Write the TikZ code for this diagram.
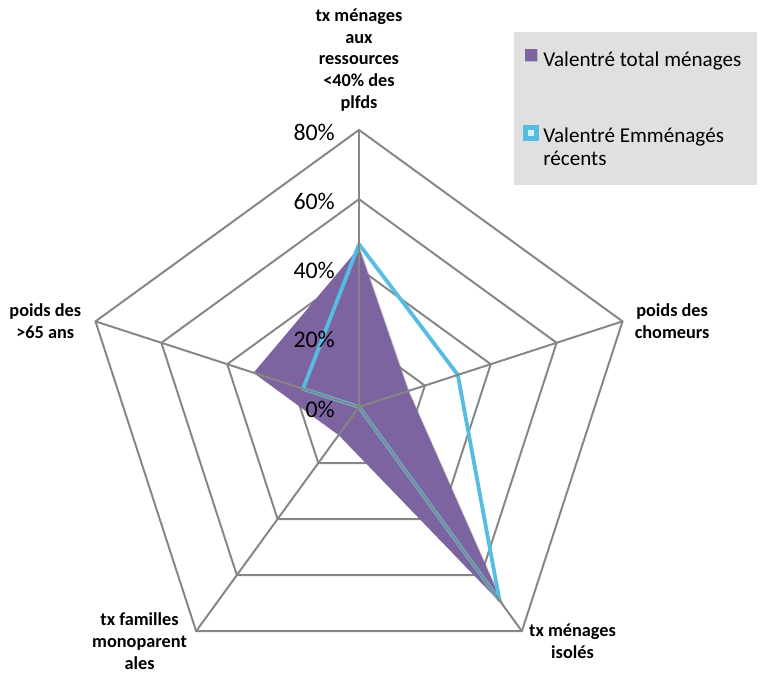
\documentclass[tikz,border=0pt]{standalone}
\usepackage{fontspec}
\setmainfont{Carlito}
\usetikzlibrary{shadows}
\definecolor{gridgray}{RGB}{134,134,134}
\definecolor{totalpurple}{RGB}{126,99,161}
\definecolor{recentblue}{RGB}{86,188,226}
\definecolor{legendgray}{RGB}{224,224,224}
\tikzset{
	grid_line/.style = {
		draw=gridgray,
		line width=1.4pt
	},
	serie_total/.style = {
		fill=totalpurple,
		drop shadow={shadow xshift=1.2pt, shadow yshift=-1.2pt, opacity=0.35}
	},
	serie_recent/.style = {
		draw=recentblue,
		line width=2.7pt,
		line join=round
	},
	cat_label/.style = {
		align=center,
		inner sep=0pt,
		font=\bfseries\fontsize{13}{15.5}\selectfont
	},
	tick_label/.style = {
		anchor=east,
		inner sep=0pt,
		font=\fontsize{17}{20}\selectfont
	},
	legend_key/.style = {
		inner sep=0pt,
		minimum size=#1
	},
	legend_text/.style = {
		align=left,
		inner sep=0pt,
		anchor=base west,
		font=\fontsize{15}{17}\selectfont
	},
}

\begin{document}
\begin{tikzpicture}[x=0.025cm, y=0.025cm]
\useasboundingbox (0,0) rectangle (764,673);
\fill[legendgray] (514,488) rectangle (757,641);
\begin{scope}[shift={(359,266)}, x=0.0865625cm, y=0.0865625cm]
\coordinate (o) at (0,0);
\foreach \a [count=\i] in {90,18,-54,-126,162}
	\coordinate (v\i) at (\a:80);
\foreach \r in {20,40,60,80}
	\draw[grid_line] (90:\r) -- (18:\r) -- (-54:\r) -- (-126:\r) -- (162:\r) -- cycle;
\fill[serie_total] (90:46) -- (18:15) -- (-54:71) -- (-126:10) -- (162:32) -- cycle;
\draw[serie_recent] (90:47) -- (18:30) -- (-54:69) -- (o) -- (162:17) -- cycle;
\foreach \i in {1,...,5}
	\draw[grid_line] (o) -- (v\i);
\foreach \t in {0,20,...,80}
	\node[tick_label] (tick\t) at (-6.9,\t-0.6) {\t\%};
\end{scope}
\node[cat_label, anchor=south] (cat_top) at ([yshift=13pt]v1) {tx ménages\\aux\\ressources\\<40\% des\\plfds};
\node[cat_label, anchor=west] (cat_right) at ([xshift=8.5pt]v2) {poids des\\chomeurs};
\node[cat_label, anchor=west] (cat_br) at ([shift={(5pt,-7pt)}]v3) {tx ménages\\isolés};
\node[cat_label, anchor=east] (cat_bl) at ([shift={(-6.4pt,-7pt)}]v4) {tx familles\\monoparent\\ales};
\node[cat_label, anchor=east] (cat_left) at ([xshift=-10pt]v5) {poids des\\>65 ans};
\node[legend_key=0.32cm, fill=totalpurple, drop shadow={shadow xshift=0.6pt, shadow yshift=-0.6pt, opacity=0.35}] (key_total) at (531,618) {};
\node[legend_text] (txt_total) at (543,606) {Valentré total ménages};
\node[legend_key=0.38cm, fill=recentblue] (key_recent) at (531,540) {};
\node[legend_key=0.13cm, fill=white!75!recentblue] (key_recent_in) at (key_recent) {};
\node[legend_text] (txt_recent) at (543,507) {Valentré Emménagés\\récents};
\end{tikzpicture}
\end{document}
